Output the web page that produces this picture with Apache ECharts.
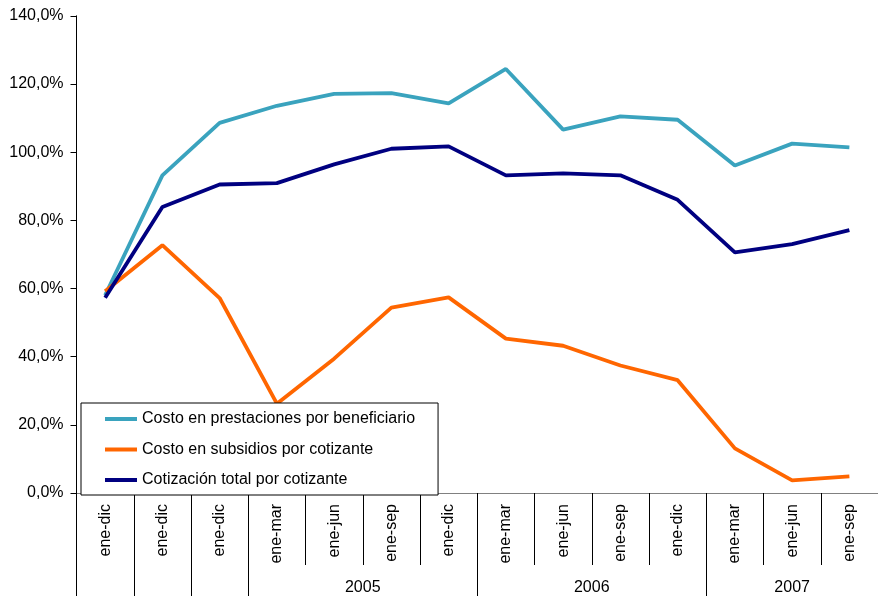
<!DOCTYPE html>
<html>
<head>
<meta charset="utf-8">
<script src="https://cdn.jsdelivr.net/npm/echarts@6/dist/echarts.min.js"></script>
<style>
  html, body { margin: 0; padding: 0; background: #fff; }
  #chart { width: 878px; height: 596px; }
</style>
</head>
<body>
<div id="chart"></div>
<script>
const categories = ['ene-dic','ene-dic','ene-dic','ene-mar','ene-jun','ene-sep','ene-dic','ene-mar','ene-jun','ene-sep','ene-dic','ene-mar','ene-jun','ene-sep'];
const groupNames = ['2005','2006','2007'];
const groupStart = [3, 7, 11];
const groupEnd = [7, 11, 14];
const separators = [0, 1, 2, 3, 7, 11, 14];

const seriesNames = ['Costo en prestaciones por beneficiario','Costo en subsidios por cotizante','Cotización total por cotizante'];
const prestaciones = [58.0, 93.2, 108.6, 113.6, 117.1, 117.3, 114.3, 124.4, 106.6, 110.5, 109.5, 96.1, 102.5, 101.4];
const subsidios    = [59.2, 72.7, 57.2, 26.2, 39.4, 54.4, 57.4, 45.3, 43.2, 37.4, 33.1, 13.1, 3.7, 4.9];
const cotizacion   = [57.3, 83.9, 90.5, 90.9, 96.4, 101.0, 101.7, 93.2, 93.8, 93.2, 86.0, 70.6, 73.0, 77.1];

const colors = ['#3aa3be', '#ff6600', '#000080'];

const groupCenters = groupNames.map((n, i) => (groupStart[i] + groupEnd[i]) / 2);

const chart = echarts.init(document.getElementById('chart'), null, { renderer: 'canvas' });
const font = 'Liberation Sans, Arial, sans-serif';

chart.setOption({
  animation: false,
  backgroundColor: '#fff',
  textStyle: { fontFamily: font },
  grid: { left: 76.5, top: 15.8, width: 812, height: 479.2, containLabel: false },
  legend: {
    orient: 'vertical',
    left: 81, top: 403,
    padding: [8, 23, 7, 24],
    icon: 'rect',
    itemWidth: 32, itemHeight: 4, itemGap: 14.5,
    backgroundColor: '#fff',
    borderColor: '#000', borderWidth: 1,
    textStyle: { fontSize: 16, color: '#000', fontFamily: font, lineHeight: 16 },
    data: seriesNames
  },
  xAxis: [
    {
      type: 'category', data: categories, boundaryGap: true, gridIndex: 0,
      axisLine: { lineStyle: { color: '#808080', width: 1 } },
      axisTick: { show: true, interval: 0, length: 72, lineStyle: { color: '#000' } },
      axisLabel: { interval: 0, rotate: 90, margin: 11, fontSize: 16, color: '#000', fontFamily: font },
      splitLine: { show: false }
    },
    {
      type: 'value', min: 0, max: 14, gridIndex: 0, position: 'bottom',
      axisLine: { show: false },
      axisTick: { show: true, customValues: separators, length: 110, lineStyle: { color: '#000' } },
      axisLabel: {
        customValues: groupCenters, margin: 87, fontSize: 16, color: '#000', fontFamily: font,
        formatter: v => { const i = groupCenters.indexOf(v); return i >= 0 ? groupNames[i] : ''; }
      },
      splitLine: { show: false }
    }
  ],
  yAxis: {
    type: 'value', min: 0, max: 140, interval: 20,
    axisLine: { show: true, lineStyle: { color: '#000', width: 1 } },
    axisTick: { show: true, length: 6, lineStyle: { color: '#000' } },
    axisLabel: { margin: 13, fontSize: 16, color: '#000', fontFamily: font,
      formatter: v => v.toFixed(1).replace('.', ',') + '%' },
    splitLine: { show: false }
  },
  series: [
    { name: seriesNames[0], type: 'line', data: prestaciones, symbol: 'none', lineStyle: { color: colors[0], width: 3.8 }, itemStyle: { color: colors[0] } },
    { name: seriesNames[1], type: 'line', data: subsidios, symbol: 'none', lineStyle: { color: colors[1], width: 3.8 }, itemStyle: { color: colors[1] } },
    { name: seriesNames[2], type: 'line', data: cotizacion, symbol: 'none', lineStyle: { color: colors[2], width: 3.8 }, itemStyle: { color: colors[2] } }
  ]
});
</script>
</body>
</html>
